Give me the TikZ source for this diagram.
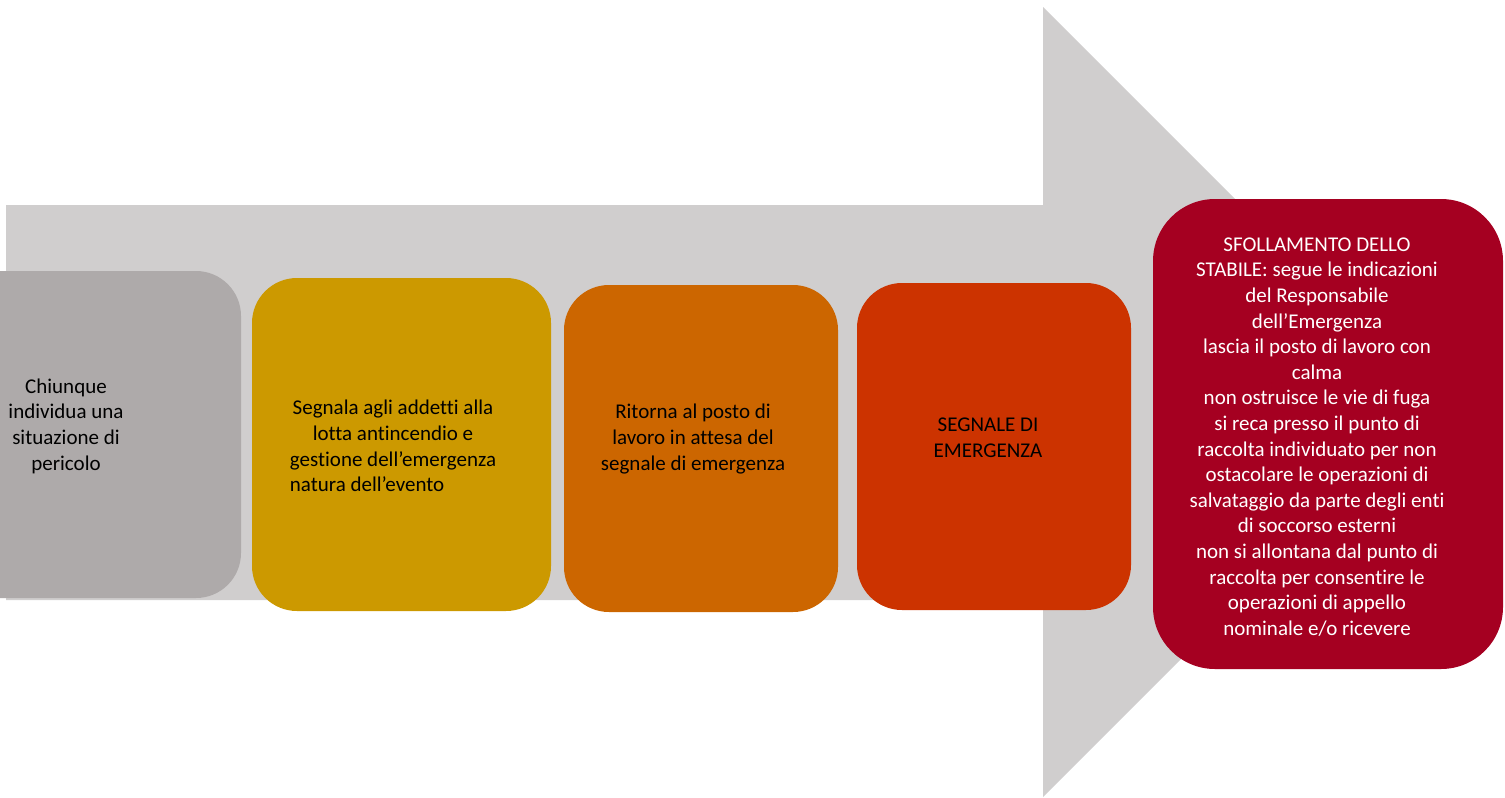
\documentclass[tikz,border=0pt]{standalone}
\usepackage{fontspec}
\setmainfont{Carlito}[Ligatures=NoCommon]
\definecolor{arrowgray}{HTML}{D0CECE}
\definecolor{cone}{HTML}{AEAAAA}
\definecolor{ctwo}{HTML}{CC9900}
\definecolor{cthree}{HTML}{CC6600}
\definecolor{cfour}{HTML}{CC3300}
\definecolor{cfive}{HTML}{A50021}
\newsavebox\gestbox
\begin{document}
\sbox\gestbox{\fontsize{21}{25.6}\selectfont gestione dell’emergenza}%
\begin{tikzpicture}[x=1pt,y=-1pt,
  stepbox/.style={rounded corners=45pt, inner sep=0pt, draw=none},
  steptext/.style={inner sep=0pt, align=center, font=\fontsize{21}{25.6}\selectfont, text=black},
]
\useasboundingbox (0,0) rectangle (1505,798);
% big arrow
\fill[arrowgray] (6,205) -- (1043,205) -- (1043,7) -- (1438,402) -- (1043,797) -- (1043,600) -- (6,600) -- cycle;
% boxes
\node[stepbox, fill=cone, minimum width=350pt, minimum height=327pt] (b1) at (66,434.5) {};
\node[stepbox, fill=ctwo, minimum width=299pt, minimum height=333pt] (b2) at (401.5,444.5) {};
\node[stepbox, fill=cthree, minimum width=274pt, minimum height=327pt] (b3) at (701,448.5) {};
\node[stepbox, fill=cfour, minimum width=274pt, minimum height=327pt] (b4) at (994,446.5) {};
\node[stepbox, rounded corners=62pt, fill=cfive, minimum width=350pt, minimum height=470pt] (b5) at (1328,434) {};
% texts
\node[steptext] (t1) at (66,426) {Chiunque\\individua una\\situazione di\\pericolo};
\node[steptext] (t2) at (393,446) {Segnala agli addetti alla\\lotta antincendio e\\gestione dell’emergenza\\\makebox[\wd\gestbox][l]{natura dell’evento}};
\node[steptext] (t3) at (693,439) {Ritorna al posto di\\lavoro in attesa del\\segnale di emergenza};
\node[steptext] (t4) at (988,437.5) {SEGNALE DI\\EMERGENZA};
\node[steptext, text=white] (t5) at (1317,437) {SFOLLAMENTO DELLO\\STABILE: segue le indicazioni\\del Responsabile\\dell’Emergenza\\lascia il posto di lavoro con\\calma\\non ostruisce le vie di fuga\\si reca presso il punto di\\raccolta individuato per non\\ostacolare le operazioni di\\salvataggio da parte degli enti\\di soccorso esterni\\non si allontana dal punto di\\raccolta per consentire le\\operazioni di appello\\nominale e/o ricevere};
\end{tikzpicture}
\end{document}
